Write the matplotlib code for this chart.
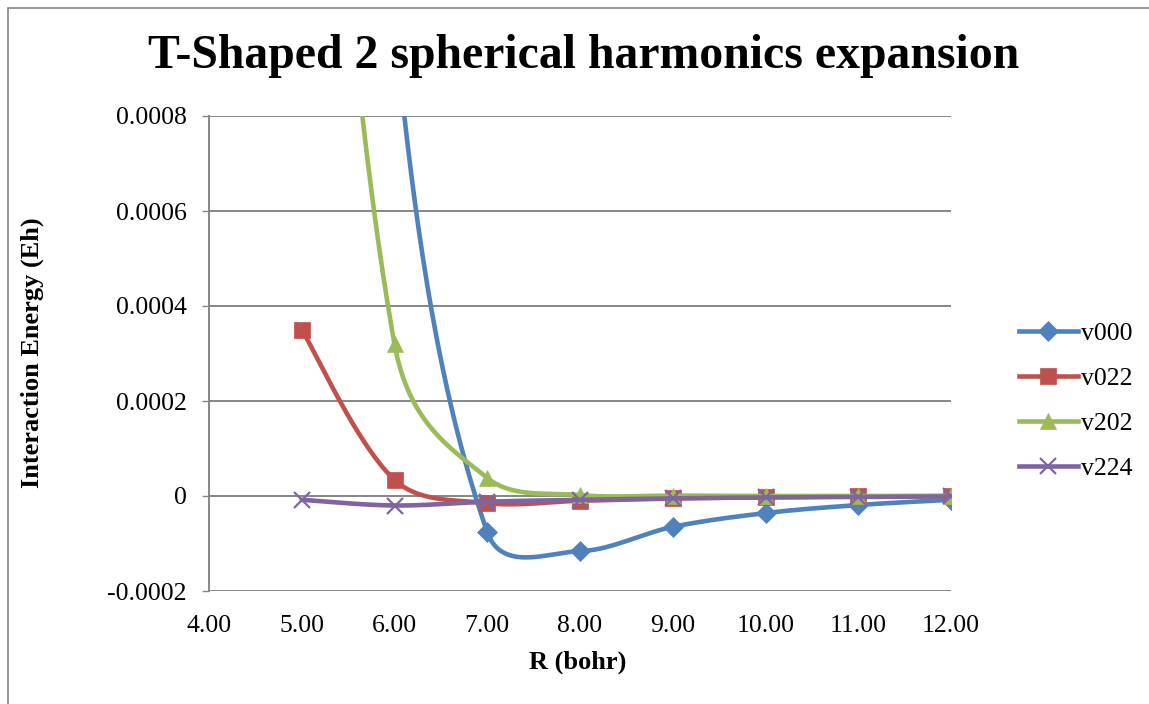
import numpy as np
import matplotlib
matplotlib.use('Agg')
import matplotlib.pyplot as plt
from matplotlib.patches import Rectangle

R = [5.0, 6.0, 7.0, 8.0, 9.0, 10.0, 11.0, 12.0]
v000 = [0.0040, 0.00100, -0.000076, -0.000116, -0.000065, -0.000036, -0.000019, -0.000008]
v022 = [0.00035, 0.000034, -0.000015, -0.000010, -0.000005, -0.000003, -0.000001, 0.0]
v202 = [0.0022, 0.00032, 0.000038, 0.000002, 0.000001, 0.0, 0.0, 0.0]
v224 = [-0.000008, -0.000020, -0.000012, -0.000008, -0.000005, -0.000003, -0.000002, -0.000001]

names = ['v000', 'v022', 'v202', 'v224']
colors = ['#4F81BD', '#C0504D', '#9BBB59', '#8064A2']
markers = ['D', 's', '^', 'x']
msizes = [10, 12, 12, 12]

xticks = [4, 5, 6, 7, 8, 9, 10, 11, 12]
yticks = [-0.0002, 0, 0.0002, 0.0004, 0.0006, 0.0008]
ylabels = ['-0.0002', '0', '0.0002', '0.0004', '0.0006', '0.0008']

W, H = 1149, 704
L, Rt, T, B = 209, 951, 116, 591
XS = (Rt - L) / 8.0
YS = (B - T) / 0.001
A = 0.7


def smooth(xs, ys, n=60):
    # excel-like bezier smoothing done in pixel space
    P = np.column_stack([np.asarray(xs) * XS, np.asarray(ys) * YS])
    m = len(P)
    d = np.linalg.norm(np.diff(P, axis=0), axis=1)
    outx, outy = [], []
    t = np.linspace(0, 1, n)[:, None]
    for i in range(m - 1):
        p0, p1 = P[i], P[i + 1]
        if i == 0:
            c1 = p0 + (p1 - p0) / 6
        else:
            w = d[i] ** A / (d[i - 1] ** A + d[i] ** A)
            c1 = p0 + (P[i + 1] - P[i - 1]) * w / 3
        if i + 1 == m - 1:
            c2 = p1 - (p1 - p0) / 6
        else:
            w = d[i] ** A / (d[i] ** A + d[i + 1] ** A)
            c2 = p1 - (P[i + 2] - P[i]) * w / 3
        b = (1 - t) ** 3 * p0 + 3 * (1 - t) ** 2 * t * c1 + 3 * (1 - t) * t ** 2 * c2 + t ** 3 * p1
        outx.append(b[:, 0])
        outy.append(b[:, 1])
    return np.concatenate(outx) / XS, np.concatenate(outy) / YS


plt.rcParams['font.family'] = ['Liberation Serif', 'DejaVu Serif']
fig = plt.figure(figsize=(W / 100, H / 100), dpi=100)
ax = fig.add_axes([L / W, 1 - B / H, (Rt - L) / W, (B - T) / H])

grid_c = '#868686'
for yt in yticks:
    ax.axhline(yt, color=grid_c, lw=1.4, zorder=0)

series = [v000, v022, v202, v224]
for k in range(4):
    sx, sy = smooth(R, series[k])
    ax.plot(sx, sy, color=colors[k], lw=3.3, solid_capstyle='round', zorder=2 + k)
    ax.plot(R, series[k], ls='none', marker=markers[k], ms=msizes[k], color=colors[k],
            mew=1.6 if markers[k] == 'x' else 0.5, zorder=2 + k)

ax.set_xlim(4, 12)
ax.set_ylim(-0.0002, 0.0008)
ax.set_xticks(xticks)
ax.set_xticklabels(['%.2f' % v for v in xticks])
ax.set_yticks(yticks)
ax.set_yticklabels(ylabels)
for s in ['top', 'right', 'bottom']:
    ax.spines[s].set_visible(False)
ax.spines['left'].set_color(grid_c)
ax.spines['left'].set_linewidth(1.4)
ax.tick_params(axis='y', length=5, width=1.0, color=grid_c, pad=11, labelsize=18.5)
ax.tick_params(axis='x', length=0, pad=17, labelsize=18.5)

fig.text(584 / W, 1 - 56 / H, 'T-Shaped 2 spherical harmonics expansion', ha='center', va='center',
         fontsize=34.4, fontweight='bold')
fig.text(578 / W, 1 - 662 / H, 'R (bohr)', ha='center', va='center', fontsize=19, fontweight='bold')
fig.text(32 / W, 1 - 353 / H, 'Interaction Energy (Eh)', ha='center', va='center', rotation=90,
         fontsize=19, fontweight='bold')

handles = [plt.Line2D([], [], color=colors[k], lw=3.3, marker=markers[k], ms=msizes[k],
                      mew=1.6 if markers[k] == 'x' else 0.5) for k in range(4)]
fig.legend(handles, names, loc='center left', bbox_to_anchor=(1006 / W, 1 - 401 / H), frameon=False,
           fontsize=18.5, handlelength=2.3, handletextpad=0.1, labelspacing=0.86, borderpad=0)

fig.add_artist(Rectangle((8 / W, -0.1), 2, 1.1 - 8 / H, transform=fig.transFigure, fill=False,
                         edgecolor='#878787', lw=1.2))

fig.savefig('out.png', dpi=100)
